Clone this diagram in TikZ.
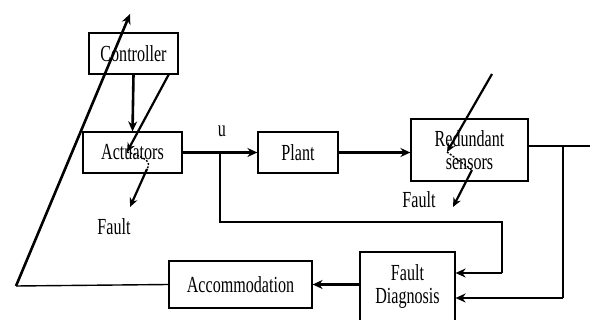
\documentclass[tikz,border=0pt]{standalone}
\usepackage{fontspec}
\setmainfont{Liberation Serif}[FakeStretch=0.7]
\usetikzlibrary{arrows.meta}
\begin{document}
\begin{tikzpicture}[x=1pt,y=-1pt,
  box/.style={draw, line width=1.2pt, inner sep=0pt, align=center, font=\fontsize{23}{25}\selectfont},
  lbl/.style={inner sep=0pt, font=\fontsize{23}{25}\selectfont},
  flow/.style={line width=2.6pt, -{Stealth[length=10pt,width=9pt]}},
  wire/.style={line width=1.4pt},
  faultline/.style={line width=2.2pt, -{Stealth[length=9pt,width=8pt]}},
  faultdash/.style={line width=1.4pt, dashed, dash pattern=on 2pt off 1.5pt}]
\useasboundingbox (0,0) rectangle (590,320);
\fill[white] (0,0) rectangle (590,320);

\node[box, minimum width=89pt, minimum height=41pt] (ctrl) at (133.5,53.5) {Controller};
\node[box, minimum width=99pt, minimum height=41pt] (act) at (132.5,152.5) {Actuators};
\node[box, minimum width=80pt, minimum height=41pt] (plant) at (298,152.5) {Plant};
\node[box, minimum width=117pt, minimum height=62pt] (sens) at (469.5,150) {Redundant\\[-2pt]sensors};
\node[box, minimum width=95pt, minimum height=70pt] (fd) at (407.5,287) {Fault\\[-2pt]Diagnosis};
\node[box, minimum width=143pt, minimum height=47pt] (acc) at (240.5,284.5) {Accommodation};

\node[lbl] (ulab) at (222,131) {u};
\node[lbl] (f1) at (114,227) {Fault};
\node[lbl] (f2) at (419,200) {Fault};

\coordinate (out) at (590,146);
\coordinate (br1) at (563,146);
\coordinate (s1) at (563,298);
\coordinate (ub) at (220,152.5);
\coordinate (u1) at (220,222);
\coordinate (u2) at (502,222);
\coordinate (u3) at (502,273);
\coordinate (fbA) at (16,286);
\coordinate (fbT) at (130,14);

% actuator fault
\coordinate (a0) at (169,74);
\coordinate (a1) at (127,152);
\coordinate (a2) at (147,169);
\coordinate (a3) at (130,207);
% sensor fault
\coordinate (b0) at (492,74);
\coordinate (b1) at (447,152);
\coordinate (b2) at (472,170);
\coordinate (b3) at (453,207);

\draw[flow] (ctrl.south) -- (act.north);
\draw[flow] (act.east) -- (plant.west);
\draw[flow] (plant.east) -- (plant.east -| sens.west);
\draw[line width=2.8pt] (sens.east |- out) -- (out);
\draw[wire] (br1) -- (s1);
\draw[flow] (s1) -- (s1 -| fd.east);
\draw[wire] (ub) -- (u1) -- (u2) -- (u3);
\draw[flow] (u3) -- (u3 -| fd.east);
\draw[flow] (fd.west |- acc.east) -- (acc.east);
\draw[wire] (acc.west) -- (fbA);
\draw[flow] (fbA) -- (fbT);

\draw[faultline] (a0) -- (a1);
\draw[faultdash] (a1) .. controls (145,157) and (152,162) .. (a2);
\draw[faultline] (a2) -- (a3);

\draw[faultline] (b0) -- (b1);
\draw[faultdash] (b1) -- (b2);
\draw[faultline] (b2) -- (b3);
\end{tikzpicture}
\end{document}
